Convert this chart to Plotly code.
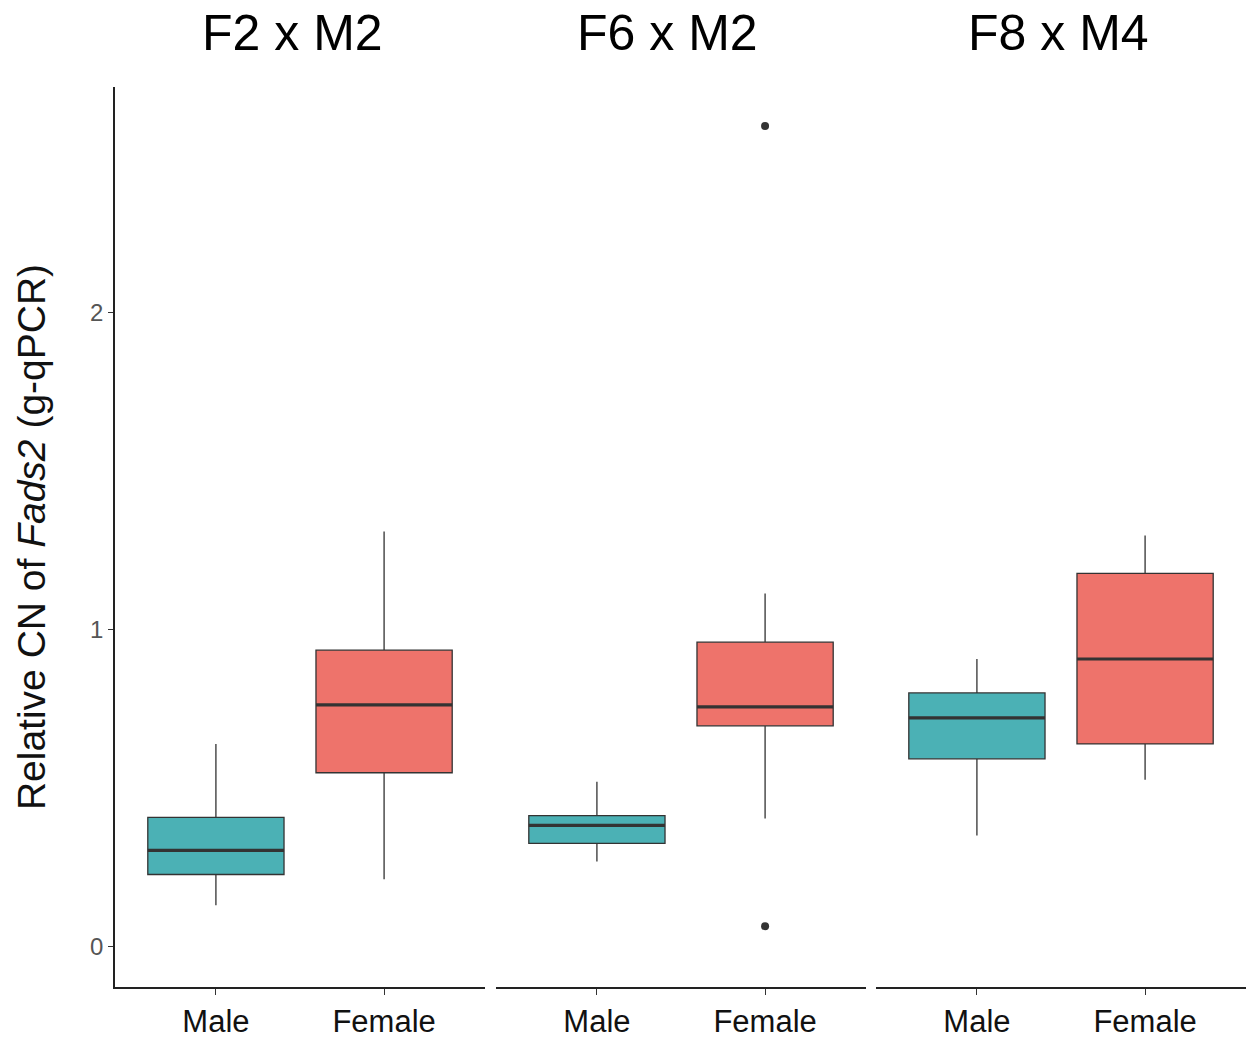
import plotly.graph_objects as go

panels = ["F2 x M2", "F6 x M2", "F8 x M4"]
sexes = ["Male", "Female"]
colors = {"Male": "#4BB1B5", "Female": "#EE736B"}

# stats per panel, order [Male, Female]
lower = [[0.129, 0.211], [0.267, 0.403], [0.349, 0.525]]
q1 = [[0.226, 0.547], [0.324, 0.695], [0.591, 0.638]]
median = [[0.302, 0.761], [0.381, 0.755], [0.720, 0.906]]
q3 = [[0.406, 0.934], [0.412, 0.959], [0.799, 1.176]]
upper = [[0.638, 1.308], [0.519, 1.113], [0.906, 1.296]]
# outliers: (panel index, sex index, value)
outlier_panel = [1, 1]
outlier_sex = [1, 1]
outlier_val = [2.588, 0.063]

yticks = [0, 1, 2]

BOXW = 0.81
W, H = 1249, 1042
ml, mr, mt, mb = 115, 3, 87, 52
pw = W - ml - mr
edges = [(0, 370), (381, 751), (761, 1131)]
title_xshift = [-8, -14, -3]

fig = go.Figure()
for p in range(3):
    xa = "x" if p == 0 else f"x{p+1}"
    for s, sex in enumerate(sexes):
        fig.add_trace(go.Box(
            x=[s], q1=[q1[p][s]], median=[median[p][s]], q3=[q3[p][s]],
            lowerfence=[lower[p][s]], upperfence=[upper[p][s]],
            width=BOXW, whiskerwidth=0, fillcolor=colors[sex],
            line=dict(color="#333333", width=1.3), boxpoints=False,
            xaxis=xa, yaxis="y", showlegend=False, hoverinfo="skip"))
        fig.add_trace(go.Scatter(
            x=[s - BOXW / 2, s + BOXW / 2], y=[median[p][s]] * 2,
            mode="lines", line=dict(color="#333333", width=3.2),
            xaxis=xa, yaxis="y", showlegend=False, hoverinfo="skip"))
    ox = [outlier_sex[i] for i in range(len(outlier_val)) if outlier_panel[i] == p]
    oy = [outlier_val[i] for i in range(len(outlier_val)) if outlier_panel[i] == p]
    if ox:
        fig.add_trace(go.Scatter(x=ox, y=oy, mode="markers",
                                 marker=dict(color="#333333", size=8),
                                 xaxis=xa, yaxis="y", showlegend=False))

axis_common = dict(range=[-0.6, 1.6], tickvals=[0, 1], ticktext=sexes,
                   showline=True, linecolor="#222222", linewidth=1.5,
                   ticks="outside", ticklen=6, tickcolor="#333333", tickwidth=1.3,
                   showgrid=False, zeroline=False,
                   tickfont=dict(size=31, color="#111111", family="Liberation Sans, Arial, sans-serif"))
layout = dict(width=W, height=H, plot_bgcolor="white", paper_bgcolor="white",
              margin=dict(l=ml, r=mr, t=mt, b=mb),
              font=dict(family="Liberation Sans, Arial, sans-serif"))
for p in range(3):
    key = "xaxis" if p == 0 else f"xaxis{p+1}"
    d = dict(axis_common)
    d["domain"] = [edges[p][0] / pw, edges[p][1] / pw]
    d["anchor"] = "y"
    layout[key] = d
layout["yaxis"] = dict(range=[-0.129, 2.711], tickvals=yticks, ticktext=[str(t) for t in yticks],
                       showline=True, linecolor="#222222", linewidth=1.5,
                       ticks="outside", ticklen=5, tickcolor="#333333", tickwidth=1.3,
                       showgrid=False, zeroline=False,
                       tickfont=dict(size=24, color="#555555"),
                       title=dict(text="Relative CN of <i>Fads2</i> (g-qPCR)",
                                  font=dict(size=39, color="#111111"), standoff=32))
fig.update_layout(**layout)

for p in range(3):
    cx = (edges[p][0] + edges[p][1]) / 2 / pw
    fig.add_annotation(text=panels[p], x=cx, y=1, xref="paper", yref="paper",
                       xanchor="center", yanchor="bottom", yshift=24,
                       xshift=title_xshift[p], showarrow=False,
                       font=dict(size=50, color="#000000"))

fig.write_html("out.html")
